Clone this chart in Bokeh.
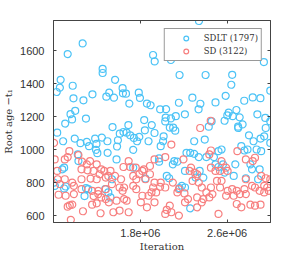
from bokeh.plotting import figure
from bokeh.models import Range1d, FixedTicker, LinearAxis, Legend, LegendItem, CustomLabelingPolicy
from bokeh.embed import file_html
from bokeh.resources import INLINE

# iterations in thousands, root age values
sdlt_iter_k = [1269,1131,1453,1453,1066,1177,1059,1030,1359,1184,1276,1487,1514,1568,1637,1640,1668,1558,1786,1797,1699,1861,1895,1983,1918,1933,1200,1157,1171,1299,1108,1544,1690,1836,2341,2083,2162,2402,2647,2639,2939,2998,2280,2354,2156,2493,2337,2038,2211,2127,2034,2083,2587,2836,2907,2758,2686,2615,2602,2653,2716,2879,2952,1906,2072,2103,2431,2701,2743,
               1034,1089,1196,1249,1308,1328,1384,1396,1446,1392,1404,1224,1230,1098,1081,1005,1013,1112,1098,1300,1286,1320,1477,1499,1611,1645,1674,1707,1741,1771,1791,1842,1931,1594,1586,1876,1735,1497,1581,1988,1973,1973,1735,1539,1505,1525,1847,2030,2122,2015,2010,2457,2297,2394,2226,2260,2297,2339,2409,2479,2114,2100,2142,2212,2347,2381,2493,2044,2066,2184,2162,2212,2260,2310,2577,2703,2802,2844,2908,2942,2956,2998,2731,2788,2760,2549,2521,2872,2914,2998,2521,2563,2676,2815,2830,2900,2577,2773,2661,2886]
sdlt_age = [1644,1580,1490,1465,1424,1388,1376,1350,1336,1312,1300,1322,1346,1424,1373,1342,1340,1316,1346,1314,1280,1280,1270,1245,1574,1535,1236,1216,1184,1189,1159,1138,1150,1180,1780,1544,1453,1453,1454,1394,1531,1358,1316,1279,1285,1287,1245,1246,1215,1204,1195,1190,1327,1317,1313,1297,1241,1225,1208,1204,1197,1215,1193,1150,1135,1134,1140,1140,1154,
            1104,1052,1068,1040,1048,1022,1068,1036,1074,1000,980,972,932,892,882,802,782,778,766,768,720,762,762,982,1098,1108,1104,1088,1072,1052,1078,1118,1102,1058,1020,1052,1000,1052,942,1022,948,928,892,822,742,712,826,1172,1116,1082,1052,1172,1052,1062,982,982,976,956,956,956,932,912,928,872,872,832,912,842,828,782,768,772,646,832,1176,1132,1088,1052,1068,1082,1132,1172,1022,1002,996,1002,992,1002,992,1042,896,912,912,912,882,882,862,828,842,822]

sd_iter_k = [1005,1011,1146,1131,1104,1230,1264,1308,1337,1398,1440,1468,1258,1314,1370,1426,1034,1039,1104,1173,1258,1342,1398,1482,1061,1188,1258,1356,1413,1482,1047,1112,1188,1370,1413,1482,1131,1173,1150,1272,1356,1398,1440,1160,1434,1693,1645,1707,1758,1834,1889,1931,1525,1505,1567,1623,1651,1609,1637,1735,1763,1791,1819,1847,1889,1735,1763,1931,1918,1903,1876,1946,1982,1539,1510,1581,1651,1674,1805,1861,1931,1609,1693,1552,1819,2086,2030,2198,2352,2451,2436,2268,2255,2302,2324,2451,2493,2100,2030,1988,2142,2207,2339,2282,2367,2451,2409,2465,2240,2324,2381,2436,2072,2044,2030,2086,2156,2212,2324,2367,2156,2695,2857,2836,2773,2549,2535,2591,2605,2507,2549,2535,2605,2647,2689,2718,2760,2773,2830,2857,2942,2970,2998,2956,2914,2591,2661,2773,2900,2942,2984,2689,2731,2815,2857,2908,2521,2449]
sd_age = [1042,942,992,956,942,968,928,912,932,912,882,872,882,876,872,852,872,822,822,802,822,826,822,832,792,782,762,752,752,762,728,722,732,720,732,702,656,668,664,628,668,676,712,576,616,932,896,896,892,882,902,942,872,842,842,822,772,772,752,842,822,852,872,822,852,782,762,802,772,742,722,742,776,792,682,692,702,692,682,652,682,632,622,622,722,1032,956,942,1132,996,972,892,872,862,852,892,872,802,772,802,742,736,802,812,772,772,742,732,702,712,702,712,662,636,612,622,602,682,652,682,762,992,952,932,942,932,872,892,872,812,812,772,752,762,752,732,762,822,782,772,782,772,822,828,842,722,722,732,752,742,752,672,652,668,662,668,612,1176]

x_ticks = [1.8e6, 2.6e6]
x_tick_labels = {1.8e6: "1.8e+06", 2.6e6: "2.6e+06"}
y_ticks = [600, 800, 1000, 1200, 1400, 1600]
series_labels = ["SDLT (1797)", "SD (3122)"]
colors = ["#4cc3f6", "#f77f7f"]

sdlt_iter = [v * 1000 for v in sdlt_iter_k]
sd_iter = [v * 1000 for v in sd_iter_k]

p = figure(width=297, height=255, output_backend="svg", toolbar_location=None,
           x_range=Range1d(1.0e6, 3.0e6), y_range=Range1d(560, 1783),
           min_border_left=51, min_border_right=9, min_border_top=20, min_border_bottom=33)
p.grid.visible = False
p.outline_line_color = "#444444"
p.background_fill_color = "white"
p.border_fill_color = "white"

r1 = p.scatter(sdlt_iter, sdlt_age, size=7, fill_color=None, line_color=colors[0], line_width=1.2)
r2 = p.scatter(sd_iter, sd_age, size=7, fill_color=None, line_color=colors[1], line_width=1.2)

def style_axis(ax, ticks):
    ax.ticker = FixedTicker(ticks=ticks)
    ax.major_tick_in = 3
    ax.major_tick_out = 0
    ax.minor_tick_in = 0
    ax.minor_tick_out = 0
    ax.axis_line_color = "#444444"
    ax.major_tick_line_color = "#444444"
    ax.major_label_text_font = "Liberation Sans"
    ax.major_label_text_font_size = "11px"
    ax.major_label_text_color = "#333333"
    ax.axis_label_text_font = "DejaVu Serif"
    ax.axis_label_text_font_size = "10px"
    ax.axis_label_text_font_style = "normal"
    ax.axis_label_text_color = "#333333"

xa = p.xaxis[0]
style_axis(xa, x_ticks)
xa.major_label_overrides = x_tick_labels
xa.major_label_standoff = 6
xa.axis_label = "Iteration"
xa.axis_label_standoff = 1

ya = p.yaxis[0]
style_axis(ya, y_ticks)
ya.major_label_standoff = 9
ya.axis_label = "Root age \u2212t\u2081"
ya.axis_label_standoff = 3

top = LinearAxis()
style_axis(top, x_ticks)
top.major_label_policy = CustomLabelingPolicy(code="return []")
top.major_label_standoff = 0
p.add_layout(top, "above")

right = LinearAxis()
style_axis(right, y_ticks)
right.major_label_policy = CustomLabelingPolicy(code="return []")
right.major_label_standoff = 0
p.add_layout(right, "right")

legend = Legend(items=[LegendItem(label=series_labels[0], renderers=[r1]),
                       LegendItem(label=series_labels[1], renderers=[r2])],
                location="top_right")
legend.margin = 8
legend.padding = 3
legend.spacing = 1
legend.glyph_width = 36
legend.glyph_height = 12
legend.label_height = 12
legend.label_standoff = 0
legend.label_text_font = "DejaVu Serif"
legend.label_text_font_size = "8.5px"
legend.label_text_color = "#333333"
legend.border_line_color = "#333333"
legend.border_line_width = 1
legend.background_fill_alpha = 1.0
p.add_layout(legend, "center")

open("out.html", "w").write(file_html(p, INLINE))
